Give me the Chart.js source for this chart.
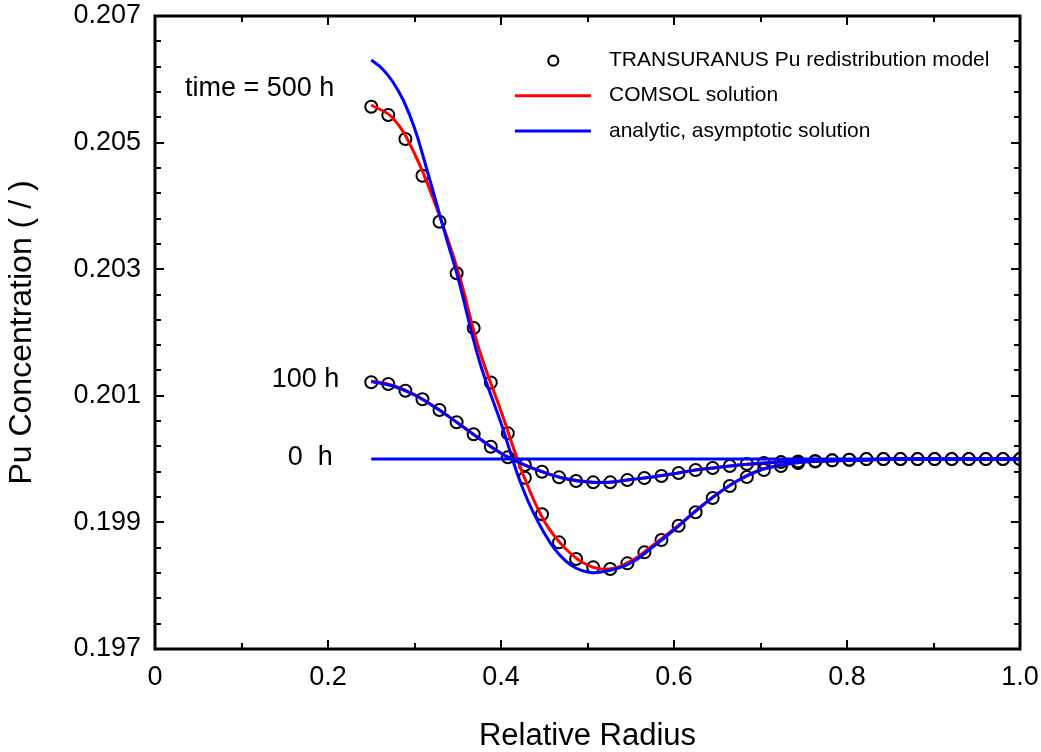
<!DOCTYPE html>
<html><head><meta charset="utf-8">
<script src="https://cdn.jsdelivr.net/npm/chart.js@4.4.1/dist/chart.umd.min.js"></script>
<style>html,body{margin:0;padding:0;background:#fff;}#wrap{width:1041px;height:752px;}</style>
</head><body><div id="wrap"><canvas id="c" width="1041" height="752"></canvas></div>
<script>
// ---- data ----
const xPoints = [0.2500,0.2697,0.2895,0.3092,0.3289,0.3487,0.3684,0.3882,0.4079,0.4276,0.4474,0.4671,0.4868,0.5066,0.5263,0.5461,0.5658,0.5855,0.6053,0.6250,0.6447,0.6645,0.6842,0.7039,0.7237,0.7434,0.7632,0.7829,0.8026,0.8224,0.8421,0.8618,0.8816,0.9013,0.9211,0.9408,0.9605,0.9803,1.0000];
const tu500 = [0.205567,0.205436,0.205057,0.204477,0.203750,0.202935,0.202070,0.201210,0.200407,0.199706,0.199128,0.198685,0.198422,0.198290,0.198264,0.198353,0.198527,0.198722,0.198948,0.199160,0.199385,0.199575,0.199717,0.199828,0.199892,0.199938,0.199962,0.199980,0.199990,0.2,0.2,0.2,0.2,0.2,0.2,0.2,0.2,0.2,0.2];
const tu100 = [0.201213,0.201186,0.201080,0.200945,0.200776,0.200581,0.200392,0.200196,0.200028,0.199907,0.199801,0.199712,0.199654,0.199633,0.199633,0.199670,0.199701,0.199733,0.199780,0.199828,0.199859,0.199891,0.199922,0.199938,0.199953,0.199962,0.199970,0.199980,0.199990,0.2,0.2,0.2,0.2,0.2,0.2,0.2,0.2,0.2,0.2];

const xLine = [0.25,0.275,0.30,0.325,0.35,0.375,0.40,0.425,0.45,0.475,0.50,0.525,0.55,0.575,0.60,0.625,0.65,0.675,0.70,0.725,0.75,0.775,0.80,0.825,0.85,0.875,0.90,0.925,0.95,0.975,1.0];
const comsol500 = [0.205594,0.205389,0.204828,0.203989,0.202983,0.201723,0.200760,0.199780,0.199022,0.198580,0.198327,0.198264,0.198390,0.198632,0.198896,0.199180,0.199449,0.199670,0.199828,0.199907,0.199954,0.199970,0.199978,0.199990,0.2,0.2,0.2,0.2,0.2,0.2,0.2];
const comsol100 = [0.201235,0.201165,0.201020,0.200810,0.200572,0.200325,0.200093,0.199920,0.199790,0.199690,0.199642,0.199636,0.199677,0.199718,0.199770,0.199829,0.199868,0.199907,0.199934,0.199954,0.199965,0.199973,0.199980,0.199985,0.2,0.2,0.2,0.2,0.2,0.2,0.2];
const analytic100 = [0.201226,0.201155,0.201013,0.200807,0.200570,0.200324,0.200092,0.199919,0.199788,0.199689,0.199640,0.199634,0.199676,0.199717,0.199769,0.199828,0.199867,0.199907,0.199934,0.199954,0.199965,0.199973,0.199980,0.199985,0.2,0.2,0.2,0.2,0.2,0.2,0.2];
const xAnalytic500 = [0.25,0.2625,0.275,0.2875,0.30,0.3125,0.325,0.3375,0.35,0.375,0.40,0.425,0.45,0.475,0.50,0.525,0.55,0.575,0.60,0.625,0.65,0.675,0.70,0.725,0.75,0.775,0.80,0.825,0.85,0.875,0.90,0.925,0.95,0.975,1.0];
const analytic500 = [0.206305,0.206171,0.205957,0.205657,0.205231,0.204662,0.204062,0.203460,0.202877,0.201550,0.200570,0.199543,0.198832,0.198390,0.198216,0.198240,0.198358,0.198605,0.198880,0.199180,0.199449,0.199670,0.199828,0.199907,0.199954,0.199970,0.199978,0.199990,0.2,0.2,0.2,0.2,0.2,0.2,0.2];
const x0h = [0.25, 1.0];
const analytic0 = [0.2, 0.2];

const xTicks = [0, 0.2, 0.4, 0.6, 0.8, 1.0];
const xTickLabels = ['0', '0.2', '0.4', '0.6', '0.8', '1.0'];
const xMinorTicks = [0.1, 0.3, 0.5, 0.7, 0.9];
const yTicks = [0.197, 0.199, 0.201, 0.203, 0.205, 0.207];
const yTickLabels = ['0.197', '0.199', '0.201', '0.203', '0.205', '0.207'];

const annotations = [
  {text: 'time = 500 h', x: 0.0347, y: 0.205736},
  {text: '100 h', x: 0.1349, y: 0.201144},
  {text: '0  h', x: 0.1534, y: 0.199907}
];
const legendItems = [
  {text: 'TRANSURANUS Pu redistribution model', kind: 'marker', color: '#000'},
  {text: 'COMSOL solution', kind: 'line', color: '#ff0000'},
  {text: 'analytic, asymptotic solution', kind: 'line', color: '#0000ff'}
];

// ---- chart ----
const FONT = '"Liberation Sans", Arial, Helvetica, sans-serif';
const RED = '#ff0000', BLUE = '#0000ff';
const pts = (xs, ys) => xs.map((x, i) => ({x: x, y: ys[i]}));
const lineDs = (d, c) => ({data: d, borderColor: c, backgroundColor: c, borderWidth: 3, pointRadius: 0, fill: false, tension: 0.4});
const noPad = s => { s.paddingLeft = 0; s.paddingRight = 0; s.paddingTop = 0; s.paddingBottom = 0; };

const framePlugin = {
  id: 'frame',
  afterDraw(chart) {
    const ctx = chart.ctx, a = chart.chartArea;
    const xs = chart.scales.x, ys = chart.scales.y;
    ctx.save();
    ctx.strokeStyle = '#000';
    ctx.lineWidth = 2;
    for (let k = 1; k < 25; k++) {
      const v = 0.197 + k * 0.0004;
      const py = Math.round(ys.getPixelForValue(v));
      const len = (k % 5 === 0) ? 9 : 6;
      ctx.beginPath();
      ctx.moveTo(a.left, py); ctx.lineTo(a.left + len, py);
      ctx.moveTo(a.right, py); ctx.lineTo(a.right - len, py);
      ctx.stroke();
    }
    const xAll = xTicks.map(v => ({v: v, len: 9})).concat(xMinorTicks.map(v => ({v: v, len: 6})));
    xAll.forEach(t => {
      if (t.v === 0 || t.v === 1) return;
      const px = Math.round(xs.getPixelForValue(t.v));
      ctx.beginPath();
      ctx.moveTo(px, a.bottom); ctx.lineTo(px, a.bottom - t.len);
      ctx.moveTo(px, a.top); ctx.lineTo(px, a.top + t.len);
      ctx.stroke();
    });
    ctx.lineWidth = 3;
    ctx.strokeRect(a.left, a.top, a.right - a.left, a.bottom - a.top);

    ctx.fillStyle = '#000';
    ctx.font = '27px ' + FONT;
    ctx.textAlign = 'left';
    ctx.textBaseline = 'alphabetic';
    annotations.forEach(n => {
      ctx.fillText(n.text, xs.getPixelForValue(n.x), ys.getPixelForValue(n.y));
    });

    ctx.font = '21px ' + FONT;
    ctx.textBaseline = 'middle';
    const ly = [60.7, 95.7, 131];
    legendItems.forEach((it, i) => {
      const y = ly[i];
      ctx.beginPath();
      ctx.strokeStyle = it.color;
      if (it.kind === 'marker') {
        ctx.lineWidth = 2.2;
        ctx.arc(553.3, y, 5, 0, Math.PI * 2);
      } else {
        ctx.lineWidth = 3;
        ctx.moveTo(515, y); ctx.lineTo(591, y);
      }
      ctx.stroke();
      ctx.fillStyle = '#000';
      ctx.fillText(it.text, 609, y);
    });
    ctx.restore();
  }
};

const markerDs = ys => ({data: pts(xPoints, ys), showLine: false, pointRadius: 6, pointBorderWidth: 2, pointBorderColor: '#000', pointBackgroundColor: 'rgba(0,0,0,0)', borderColor: '#000'});

new Chart(document.getElementById('c').getContext('2d'), {
  type: 'line',
  data: {
    datasets: [
      lineDs(pts(x0h, analytic0), BLUE),
      lineDs(pts(xAnalytic500, analytic500), BLUE),
      lineDs(pts(xLine, analytic100), BLUE),
      lineDs(pts(xLine, comsol500), RED),
      lineDs(pts(xLine, comsol100), RED),
      markerDs(tu500),
      markerDs(tu100)
    ]
  },
  options: {
    responsive: false,
    animation: false,
    devicePixelRatio: 1,
    layout: {padding: {top: 16, right: 21, left: 0, bottom: 0}},
    plugins: {legend: {display: false}, tooltip: {enabled: false}},
    scales: {
      x: {
        type: 'linear', min: 0, max: 1,
        afterFit(s) { s.height = 103; noPad(s); },
        afterBuildTicks(s) { s.ticks = xTicks.map(v => ({value: v})); },
        grid: {display: false}, border: {display: false},
        ticks: {autoSkip: false, maxRotation: 0, padding: 4, color: '#000', font: {family: FONT, size: 27},
          callback(v, i) { return xTickLabels[i]; }},
        title: {display: true, text: 'Relative Radius', color: '#000', font: {family: FONT, size: 31, lineHeight: 1}, padding: {top: 0, bottom: 0.5}}
      },
      y: {
        type: 'linear', min: 0.197, max: 0.207,
        afterFit(s) { s.width = 155; noPad(s); },
        afterBuildTicks(s) { s.ticks = yTicks.map(v => ({value: v})); },
        grid: {display: false}, border: {display: false},
        ticks: {autoSkip: false, padding: 6, color: '#000', font: {family: FONT, size: 27},
          callback(v, i) { return yTickLabels[i]; }},
        title: {display: true, text: 'Pu Concentration ( / )', color: '#000', font: {family: FONT, size: 32, lineHeight: 1}, padding: {top: 6, bottom: 0}}
      }
    }
  },
  plugins: [framePlugin]
});
</script></body></html>
